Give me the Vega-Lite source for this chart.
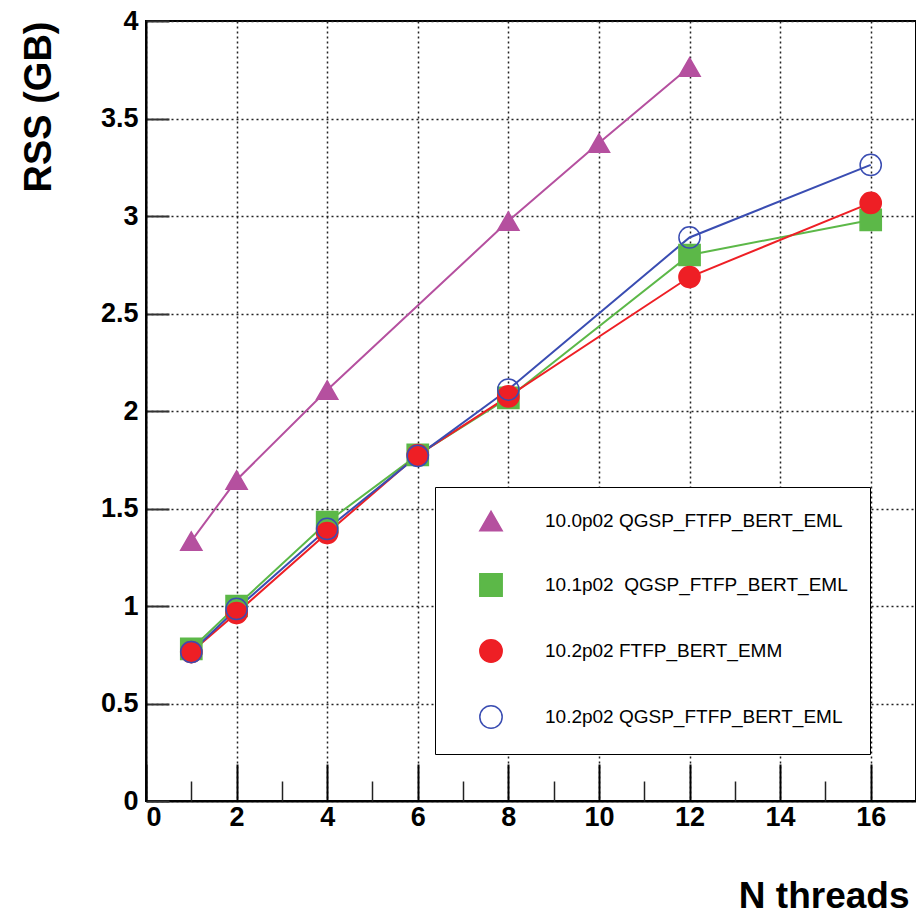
{
  "$schema": "https://vega.github.io/schema/vega-lite/v6.json",
  "width": 770,
  "height": 780,
  "autosize": {"type": "none"},
  "padding": {"left": 146, "top": 21, "right": 0, "bottom": 110},
  "background": "white",
  "config": {
    "view": {"stroke": "black", "strokeWidth": 2},
    "font": "Liberation Sans",
    "legend": {
      "orient": "none",
      "legendX": 289,
      "legendY": 466,
      "padding": 22,
      "fillColor": "white",
      "strokeColor": "black",
      "symbolSize": 500,
      "symbolStrokeWidth": 1.5,
      "symbolOffset": 22,
      "labelOffset": 42,
      "labelFontSize": 19,
      "labelColor": "black",
      "labelLimit": 400,
      "rowPadding": 36
    }
  },
  "data": {
    "values": [
      {"series": "10.0p02 QGSP_FTFP_BERT_EML", "threads": 1, "rss": 1.333},
      {"series": "10.0p02 QGSP_FTFP_BERT_EML", "threads": 2, "rss": 1.646},
      {"series": "10.0p02 QGSP_FTFP_BERT_EML", "threads": 4, "rss": 2.108},
      {"series": "10.0p02 QGSP_FTFP_BERT_EML", "threads": 8, "rss": 2.974},
      {"series": "10.0p02 QGSP_FTFP_BERT_EML", "threads": 10, "rss": 3.374},
      {"series": "10.0p02 QGSP_FTFP_BERT_EML", "threads": 12, "rss": 3.764},
      {"series": "10.1p02\u00a0 QGSP_FTFP_BERT_EML", "threads": 1, "rss": 0.78},
      {"series": "10.1p02\u00a0 QGSP_FTFP_BERT_EML", "threads": 2, "rss": 1.0},
      {"series": "10.1p02\u00a0 QGSP_FTFP_BERT_EML", "threads": 4, "rss": 1.43},
      {"series": "10.1p02\u00a0 QGSP_FTFP_BERT_EML", "threads": 6, "rss": 1.775},
      {"series": "10.1p02\u00a0 QGSP_FTFP_BERT_EML", "threads": 8, "rss": 2.067},
      {"series": "10.1p02\u00a0 QGSP_FTFP_BERT_EML", "threads": 12, "rss": 2.8},
      {"series": "10.1p02\u00a0 QGSP_FTFP_BERT_EML", "threads": 16, "rss": 2.98},
      {"series": "10.2p02 FTFP_BERT_EMM", "threads": 1, "rss": 0.764},
      {"series": "10.2p02 FTFP_BERT_EMM", "threads": 2, "rss": 0.964},
      {"series": "10.2p02 FTFP_BERT_EMM", "threads": 4, "rss": 1.374},
      {"series": "10.2p02 FTFP_BERT_EMM", "threads": 6, "rss": 1.774},
      {"series": "10.2p02 FTFP_BERT_EMM", "threads": 8, "rss": 2.075},
      {"series": "10.2p02 FTFP_BERT_EMM", "threads": 12, "rss": 2.687},
      {"series": "10.2p02 FTFP_BERT_EMM", "threads": 16, "rss": 3.067},
      {"series": "10.2p02 QGSP_FTFP_BERT_EML", "threads": 1, "rss": 0.764},
      {"series": "10.2p02 QGSP_FTFP_BERT_EML", "threads": 2, "rss": 0.985},
      {"series": "10.2p02 QGSP_FTFP_BERT_EML", "threads": 4, "rss": 1.395},
      {"series": "10.2p02 QGSP_FTFP_BERT_EML", "threads": 6, "rss": 1.77},
      {"series": "10.2p02 QGSP_FTFP_BERT_EML", "threads": 8, "rss": 2.11},
      {"series": "10.2p02 QGSP_FTFP_BERT_EML", "threads": 12, "rss": 2.89},
      {"series": "10.2p02 QGSP_FTFP_BERT_EML", "threads": 16, "rss": 3.262}
    ]
  },
  "resolve": {"axis": {"x": "independent"}},
  "encoding": {
    "y": {
      "field": "rss", "type": "quantitative",
      "scale": {"domain": [0, 4], "nice": false},
      "axis": {
        "values": [0, 0.5, 1, 1.5, 2, 2.5, 3, 3.5, 4],
        "format": "~g",
        "tickSize": -23, "tickWidth": 2, "tickColor": "#333",
        "domainColor": "black", "domainWidth": 2,
        "grid": true, "gridDash": [2, 3], "gridColor": "#222", "gridWidth": 1.5,
        "labelFontSize": 27, "labelFontWeight": "bold", "labelColor": "black",
        "labelPadding": 31,
        "title": "RSS (GB)", "titleFontSize": 38, "titleFontWeight": "bold", "titleColor": "black",
        "titleAngle": 270, "titleX": -96, "titleY": 0, "titleAlign": "right", "titleBaseline": "alphabetic"
      }
    },
    "stroke": {
      "field": "series", "type": "nominal",
      "scale": {
        "domain": ["10.0p02 QGSP_FTFP_BERT_EML", "10.1p02\u00a0 QGSP_FTFP_BERT_EML", "10.2p02 FTFP_BERT_EMM", "10.2p02 QGSP_FTFP_BERT_EML"],
        "range": ["#b5509f", "#5cb848", "#ee1f25", "#3a4db2"]
      },
      "legend": {"title": null}
    }
  },
  "layer": [
    {
      "mark": {"type": "line", "strokeWidth": 2},
      "encoding": {
        "x": {
          "field": "threads", "type": "quantitative",
          "scale": {"domain": [0, 17], "nice": false},
          "axis": {
            "orient": "bottom",
            "values": [0, 2, 4, 6, 8, 10, 12, 14, 16],
            "format": "d",
            "tickSize": -37, "tickWidth": 2, "tickColor": "black",
            "domainColor": "black", "domainWidth": 2,
            "grid": true, "gridDash": [2, 3], "gridColor": "#222", "gridWidth": 1.5,
            "labelFontSize": 27, "labelFontWeight": "bold", "labelColor": "black",
            "labelPadding": 40,
            "title": "N threads", "titleFontSize": 37, "titleFontWeight": "bold", "titleColor": "black",
            "titleX": 763, "titleY": 106, "titleAlign": "right", "titleBaseline": "alphabetic"
          }
        }
      }
    },
    {
      "mark": {"type": "point", "size": 450, "strokeWidth": 1.5, "opacity": 1, "fillOpacity": 1},
      "encoding": {
        "x": {"field": "threads", "type": "quantitative", "axis": null},
        "shape": {
          "field": "series", "type": "nominal",
          "scale": {
            "domain": ["10.0p02 QGSP_FTFP_BERT_EML", "10.1p02\u00a0 QGSP_FTFP_BERT_EML", "10.2p02 FTFP_BERT_EMM", "10.2p02 QGSP_FTFP_BERT_EML"],
            "range": ["triangle-up", "square", "circle", "circle"]
          },
          "legend": {"title": null}
        },
        "fill": {
          "field": "series", "type": "nominal",
          "scale": {
            "domain": ["10.0p02 QGSP_FTFP_BERT_EML", "10.1p02\u00a0 QGSP_FTFP_BERT_EML", "10.2p02 FTFP_BERT_EMM", "10.2p02 QGSP_FTFP_BERT_EML"],
            "range": ["#b5509f", "#5cb848", "#ee1f25", "transparent"]
          },
          "legend": {"title": null}
        }
      }
    },
    {
      "mark": {"type": "point", "opacity": 0},
      "encoding": {
        "x": {
          "field": "threads", "type": "quantitative",
          "axis": {
            "orient": "bottom",
            "values": [1, 3, 5, 7, 9, 11, 13, 15],
            "tickSize": -20, "tickWidth": 1.5, "tickColor": "#222",
            "labels": false, "domain": false, "grid": false, "title": null
          }
        }
      }
    }
  ]
}
